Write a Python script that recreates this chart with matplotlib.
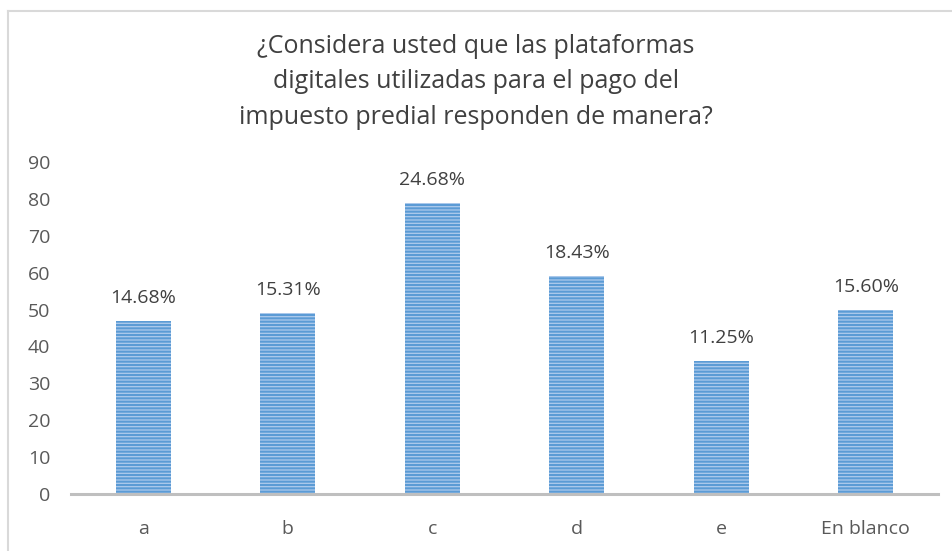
import matplotlib
matplotlib.use("Agg")
import matplotlib.pyplot as plt
from matplotlib.lines import Line2D

categories = ["a", "b", "c", "d", "e", "En blanco"]
values = [47, 49, 79, 59, 36, 50]
pct_labels = ["14.68%", "15.31%", "24.68%", "18.43%", "11.25%", "15.60%"]
yticks = [0, 10, 20, 30, 40, 50, 60, 70, 80, 90]
title = ("¿Considera usted que las plataformas\n"
         "digitales utilizadas para el pago del\n"
         "impuesto predial responden de manera?")

plt.rcParams['font.family'] = ['Open Sans', 'DejaVu Sans']
plt.rcParams['hatch.linewidth'] = 1.5

fig = plt.figure(figsize=(9.52, 5.51), dpi=100)
ax = fig.add_axes([71/952, 57/551, 867/952, 332/551])

x = list(range(len(categories)))
bars = ax.bar(x, values, width=0.38, color="#AECBEC", edgecolor="#5B9BD5",
              linewidth=0, hatch="-----", zorder=2)

for xi, v, lab in zip(x, values, pct_labels):
    ax.annotate(lab, (xi, v), xytext=(0, 10), textcoords="offset points",
                ha="center", va="bottom", fontsize=14, color="#404040")

ax.set_xlim(-0.5, len(categories) - 0.5)
ax.set_ylim(0, 90)
ax.set_yticks(yticks)
ax.set_xticks(x)
ax.set_xticklabels(categories)
ax.tick_params(axis="y", length=0, pad=15, labelsize=14, labelcolor="#595959")
ax.tick_params(axis="x", length=0, pad=19, labelsize=14, labelcolor="#595959")
for s in ["top", "right", "left"]:
    ax.spines[s].set_visible(False)
ax.spines["bottom"].set_color("#BFBFBF")
ax.spines["bottom"].set_linewidth(2.2)
ax.spines["bottom"].set_zorder(3)

fig.text(476/952, 1 - 82/551, title, ha="center", va="center",
         fontsize=18, color="#404040", linespacing=1.55)

# chart border
fig.add_artist(Line2D([7.5/952, 7.5/952], [0, 1 - 10.5/551],
                      transform=fig.transFigure, color="#D9D9D9", lw=1.5))
fig.add_artist(Line2D([7.5/952, 1], [1 - 10.5/551, 1 - 10.5/551],
                      transform=fig.transFigure, color="#D9D9D9", lw=1.5))

fig.savefig("out.png", dpi=100)
